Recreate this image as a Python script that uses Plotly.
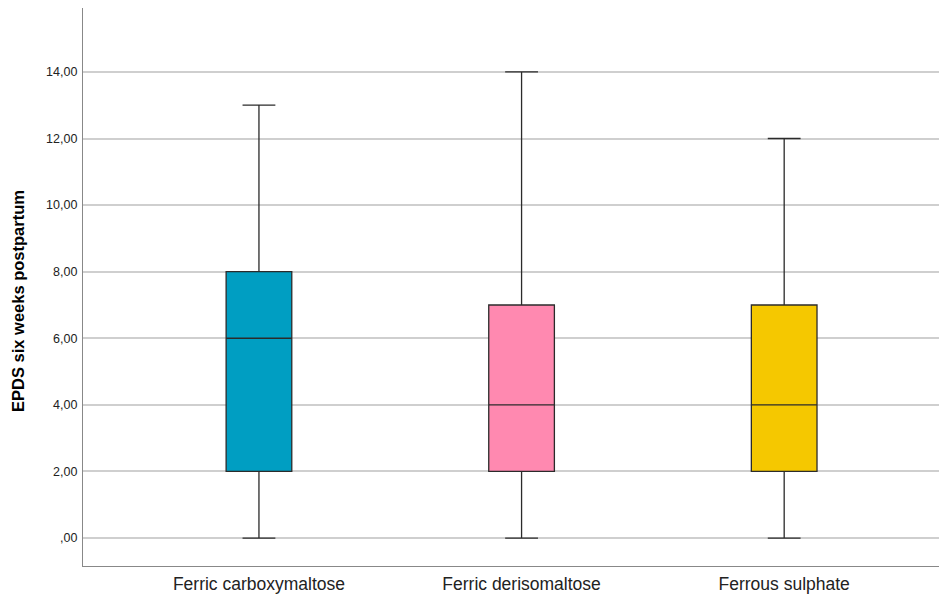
import plotly.graph_objects as go

categories = ["Ferric carboxymaltose", "Ferric derisomaltose", "Ferrous sulphate"]
lower = [0, 0, 0]
q1 = [2, 2, 2]
median = [6, 4, 4]
q3 = [8, 7, 7]
upper = [13, 14, 12]
colors = ["#009EC2", "#FF89B0", "#F5C800"]
tick_vals = [0, 2, 4, 6, 8, 10, 12, 14]
tick_text = [",00", "2,00", "4,00", "6,00", "8,00", "10,00", "12,00", "14,00"]
y_title = "EPDS six weeks postpartum"

fig = go.Figure()
for i, c in enumerate(categories):
    fig.add_trace(go.Box(
        x=[c], q1=[q1[i]], median=[median[i]], q3=[q3[i]],
        lowerfence=[lower[i]], upperfence=[upper[i]],
        fillcolor=colors[i], line=dict(color="#2b2b2b", width=1.3),
        width=0.25, whiskerwidth=0.5, boxpoints=False, showlegend=False,
        hoverinfo="skip",
    ))

fig.add_annotation(
    text="<b>" + y_title + "</b>", textangle=-90,
    xref="paper", yref="paper", x=-0.0752, y=0.475,
    xanchor="center", yanchor="middle", showarrow=False,
    font=dict(size=16.5, color="#000"),
)

fig.update_layout(
    width=939, height=588,
    margin=dict(l=75, r=0, t=0, b=30),
    plot_bgcolor="white", paper_bgcolor="white",
    font=dict(family="Liberation Sans, Arial, sans-serif", color="#000"),
    xaxis=dict(
        type="category", range=[-0.67, 2.62], showgrid=False,
        showline=True, linecolor="#888", linewidth=1.3,
        ticks="", tickfont=dict(size=17.5, color="#222"), ticklabelstandoff=2,
    ),
    yaxis=dict(
        range=[-0.84, 15.92], tickvals=tick_vals, ticktext=tick_text,
        showgrid=True, gridcolor="#cfcfcf", gridwidth=1.5, zeroline=False,
        showline=True, linecolor="#888", linewidth=1.3, ticks="",
        tickfont=dict(size=12.5, color="#222"), ticklabelstandoff=2,
    ),
)

fig.write_html("out.html")
